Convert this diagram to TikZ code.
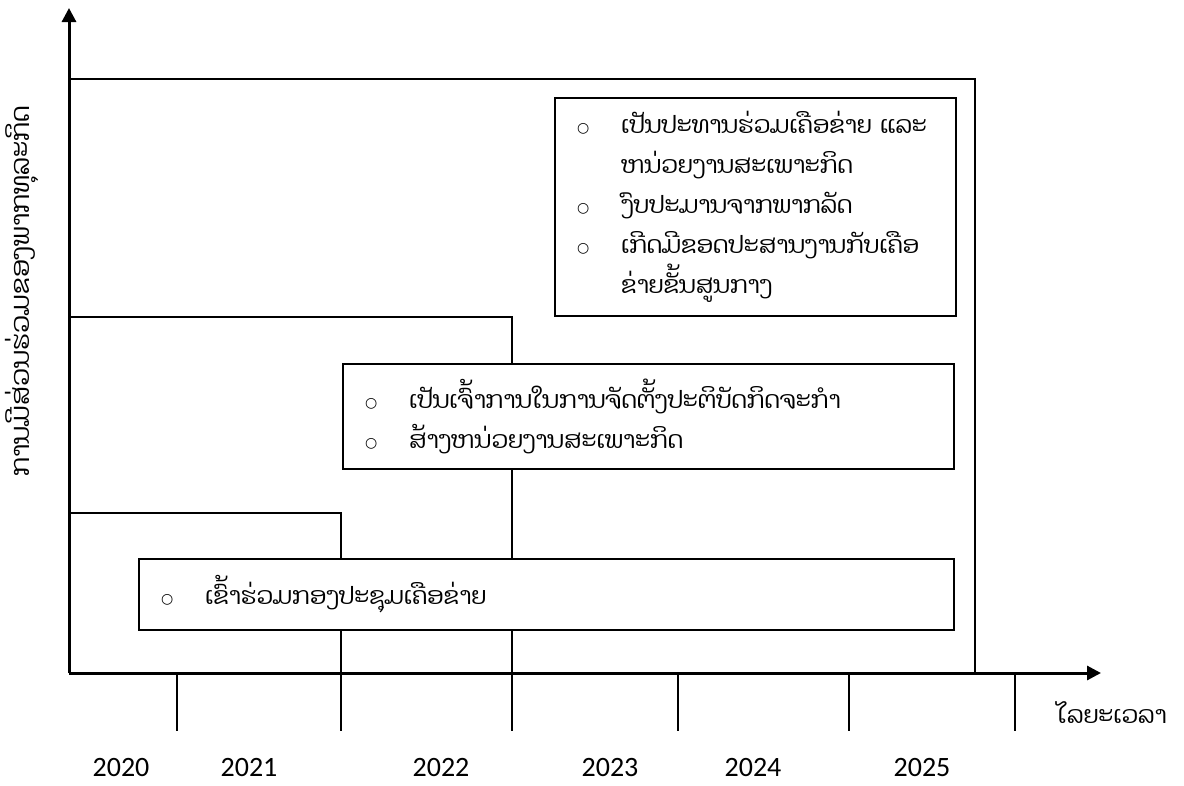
\documentclass[tikz,border=0pt]{standalone}
\usepackage{fontspec}
\usepackage{tikz}
\usetikzlibrary{positioning,arrows.meta}
\newfontfamily\laofont[Script=Lao]{Dhyana}
\newfontfamily\numfont{Carlito}
\newfontfamily\bulfont{DejaVu Sans}
\newcommand{\bul}{\makebox[44pt][l]{\raisebox{1pt}{\bulfont\fontsize{14}{14}\selectfont ○}}}
\newcommand{\cont}{\hspace*{44pt}}

\begin{document}
\begin{tikzpicture}[x=1pt,y=-1pt,>={Triangle[length=14pt,width=14pt]},line width=2pt]
  \tikzstyle{every node}=[font=\laofont\fontsize{24}{40}\selectfont]
  \tikzstyle{stage}=[draw,fill=white,anchor=north west,align=left,inner xsep=22pt,inner ysep=0pt]
  \tikzstyle{year}=[font=\numfont\fontsize{28}{32}\selectfont,anchor=base]
  \useasboundingbox (0,0) rectangle (1184,785);

  % axes
  \coordinate (O) at (69,673);
  \coordinate (Y) at (69,8);
  \coordinate (X) at (1101,673);

  % stages (outer frame and steps)
  \draw (69,79) -- (975,79) -- (975,673);
  \draw (69,317) -- (512,317) -- (512,673);
  \draw (69,513) -- (341,513) -- (341,673);

  % ticks and years
  \foreach \x in {177,341,512,678,849,1015}
    \draw (\x,673) -- (\x,731);
  \foreach \x/\yr in {121/2020,249/2021,441/2022,610/2023,753/2024,922/2025}
    \node[year] (y\yr) at (\x,776) {\yr};

  % boxes
  \node[stage,text width=771pt,minimum height=71pt] (s1) at (138,558)
    {\bul ເຂົ້າຮ່ວມກອງປະຊຸມເຄືອຂ່າຍ};
  \node[stage,text width=567pt,minimum height=105pt] (s2) at (342,363)
    {\bul ເປັນເຈົ້າການໃນການຈັດຕັ້ງປະຕິບັດກິດຈະກຳ\\
     \bul ສ້າງຫນ່ວຍງານສະເພາະກິດ};
  \node[stage,text width=357pt,minimum height=218pt] (s3) at (554,97)
    {\bul ເປັນປະທານຮ່ວມເຄືອຂ່າຍ~ແລະ\\
     \cont ຫນ່ວຍງານສະເພາະກິດ\\
     \bul ງົບປະມານຈາກພາກລັດ\\
     \bul ເກີດມີຂອດປະສານງານກັບເຄືອ\\
     \cont ຂ່າຍຂັ້ນສູນກາງ};

  % axis labels
  \node (tlabel) at (1112,713) {ໄລຍະເວລາ};
  \node[rotate=90,font=\laofont\fontsize{26}{30}\selectfont] (plabel) at (22,291) {ການມີສ່ວນຮ່ວມຂອງພາກທຸລະກິດ};

  \draw[->,line width=3pt] (O) -- (Y);
  \draw[->,line width=3pt] (O) -- (X);
\end{tikzpicture}
\end{document}
